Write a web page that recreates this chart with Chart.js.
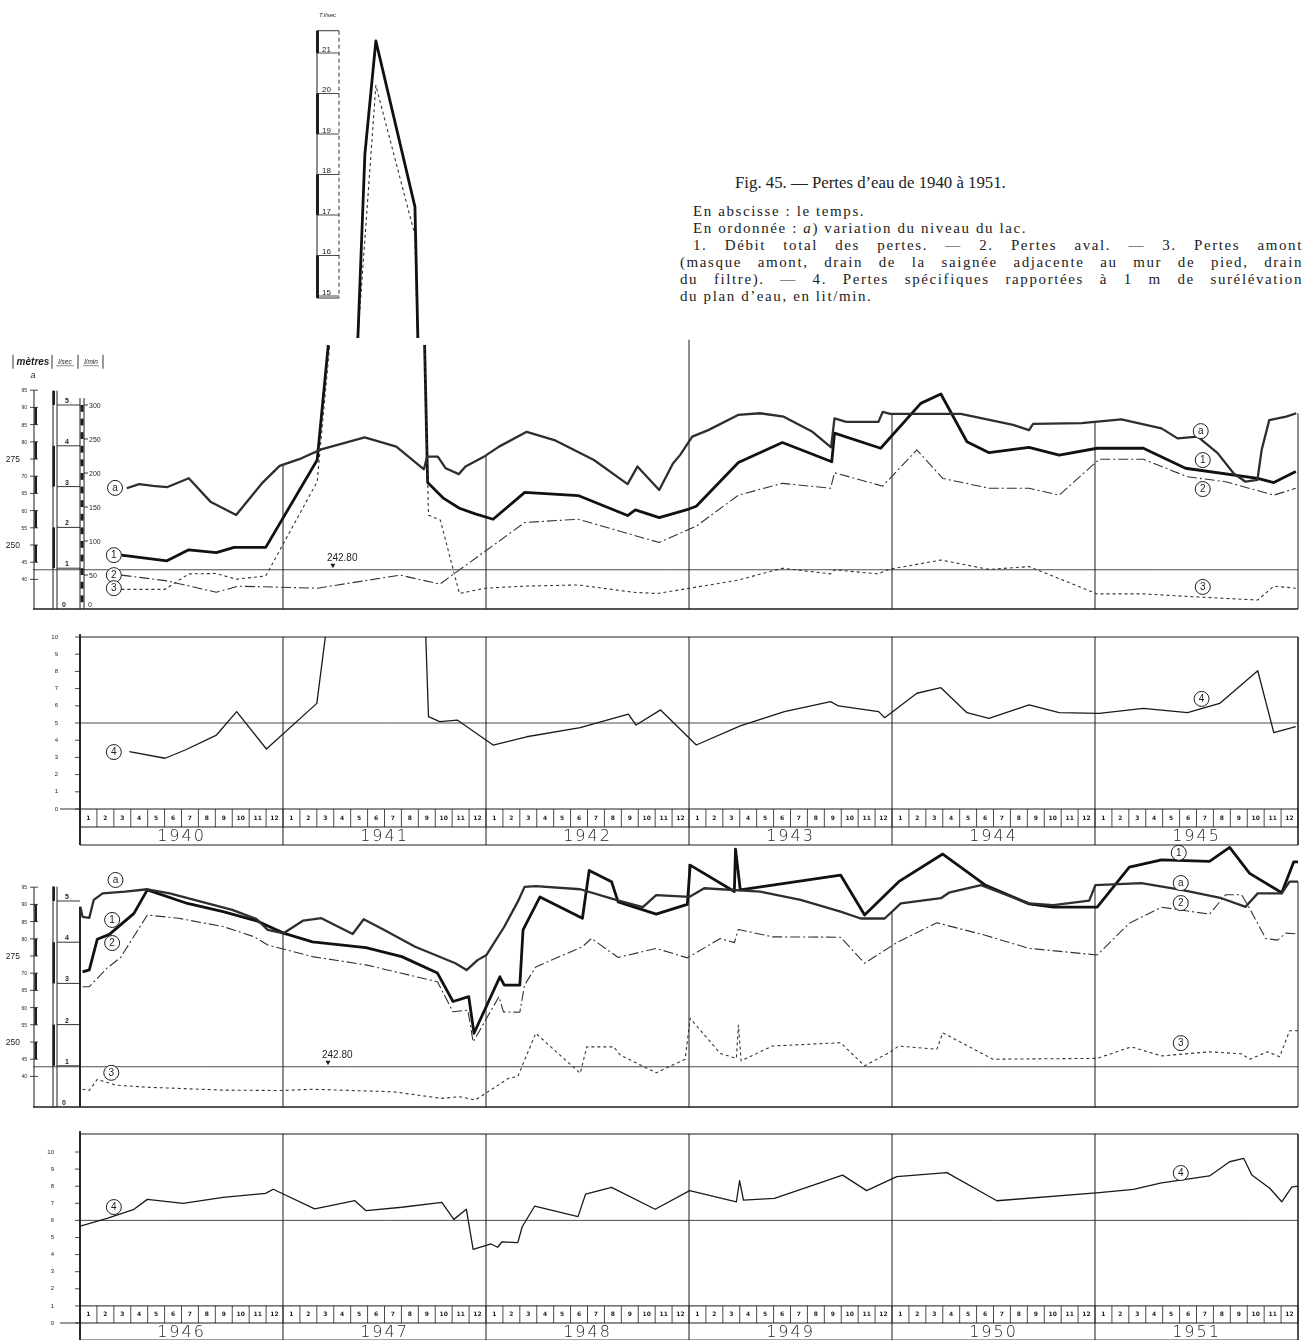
<!DOCTYPE html>
<html lang="fr">
<head>
<meta charset="utf-8">
<title>Pertes d'eau de 1940 à 1951</title>
<script src="https://cdn.jsdelivr.net/npm/chart.js@4.4.1/dist/chart.umd.min.js"></script>
<style>
  html, body { margin: 0; padding: 0; background: #fff; }
  body { position: relative; width: 1309px; height: 1340px; overflow: hidden; }
  canvas { position: absolute; left: 0; }
  .cap { position: absolute; font-family: "Liberation Serif", "DejaVu Serif", serif; color: #222; white-space: nowrap; box-sizing: border-box; }
  .title { left: 735px; top: 173px; font-size: 16.8px; }
  .txt { left: 680px; width: 623px; font-size: 15px; line-height: 17px; letter-spacing: 1.6px; }
  .ind { padding-left: 13px; }
  .just { text-align: justify; text-align-last: justify; }
</style>
</head>
<body>
<div class="cap title">Fig. 45. — Pertes d’eau de 1940 à 1951.</div>
<div class="cap txt ind" style="top:203px">En abscisse : le temps.</div>
<div class="cap txt ind" style="top:220px">En ordonnée : <i>a</i>) variation du niveau du lac.</div>
<div class="cap txt ind just" style="top:237px">1. Débit total des pertes. — 2. Pertes aval. — 3. Pertes amont</div>
<div class="cap txt just" style="top:254px">(masque amont, drain de la saignée adjacente au mur de pied, drain</div>
<div class="cap txt just" style="top:271px">du filtre). — 4. Pertes spécifiques rapportées à 1 m de surélévation</div>
<div class="cap txt" style="top:288px">du plan d’eau, en lit/min.</div>

<canvas id="inset"></canvas>
<canvas id="flow40"></canvas>
<canvas id="spec40"></canvas>
<canvas id="flow46"></canvas>
<canvas id="spec46"></canvas>

<script>
// time axis: months counted from 1 January of the first year of each half
const years40 = ['1940', '1941', '1942', '1943', '1944', '1945'];
const years46 = ['1946', '1947', '1948', '1949', '1950', '1951'];
const monthNums = ['1', '2', '3', '4', '5', '6', '7', '8', '9', '10', '11', '12'];

// ---- 1940-1945 ----
// a) lake level, metres
const lake40_t = [2.76, 3.5, 4.32, 5.14, 6.43, 7.71, 9.23, 10.75, 11.8, 13.09, 14.26, 16.83, 18.7, 20.33, 20.52, 21.15, 21.62, 22.39, 22.79, 23.95, 24.77, 26.41, 28.04, 30.38, 32.37, 32.95, 34.24, 35.05, 35.48, 36.19, 37.14, 38.9, 40.2, 41.6, 43.3, 44.4, 44.6, 45.3, 47.2, 47.45, 47.9, 52.07, 55.16, 56.1, 56.34, 59.2, 61.56, 63.93, 64.88, 66.07, 67.25, 68.2, 68.9, 69.6, 69.85, 70.3, 71.3, 71.9];
const lake40_m = [266.5, 267.7, 267.2, 266.8, 269.4, 262.6, 258.7, 267.9, 273.0, 275.2, 277.8, 281.3, 278.6, 272.0, 275.7, 275.7, 272.3, 270.6, 272.8, 275.9, 278.6, 282.9, 280.5, 274.7, 267.7, 272.8, 266.0, 273.7, 276.2, 281.5, 283.4, 287.8, 288.3, 287.3, 282.9, 278.4, 286.8, 285.8, 285.8, 288.7, 288.1, 288.1, 284.9, 283.4, 285.2, 285.4, 286.5, 283.9, 281.0, 281.5, 276.7, 270.8, 268.4, 268.9, 277.6, 286.3, 287.3, 288.3];
// 1. total losses, l/sec
const total40_t = [2.45, 5.14, 6.43, 8.06, 9.11, 10.98, 14.02, 16.43, 16.84, 17.49, 19.8, 20.55, 21.5, 22.43, 23.37, 24.42, 26.29, 29.45, 32.37, 32.83, 34.24, 35.99, 36.43, 38.92, 41.52, 44.44, 44.6, 47.33, 49.7, 50.89, 52.43, 53.74, 56.1, 57.88, 60.13, 62.86, 65.35, 69.62, 70.57, 71.87];
const total40_ls = [1.32, 1.18, 1.45, 1.38, 1.51, 1.51, 3.65, 14.0, 18.5, 21.3, 17.2, 3.1, 2.71, 2.47, 2.33, 2.2, 2.86, 2.78, 2.29, 2.43, 2.24, 2.45, 2.52, 3.59, 4.08, 3.61, 4.31, 3.94, 5.04, 5.27, 4.1, 3.83, 3.96, 3.77, 3.94, 3.94, 3.45, 3.2, 3.1, 3.37];
// 2. downstream losses, l/sec
const aval40_t = [2.45, 5.14, 8.06, 9.35, 14.02, 18.93, 21.27, 26.29, 29.45, 34.24, 35.48, 36.43, 38.92, 41.52, 44.37, 44.6, 47.45, 49.47, 51.0, 53.74, 56.1, 57.88, 60.25, 62.86, 65.47, 67.72, 70.57, 71.87];
const aval40_ls = [0.83, 0.69, 0.41, 0.56, 0.51, 0.83, 0.61, 2.12, 2.2, 1.63, 1.86, 2.03, 2.79, 3.08, 2.96, 3.34, 3.01, 3.9, 3.2, 2.96, 2.96, 2.79, 3.67, 3.67, 3.24, 3.12, 2.79, 2.96];
// 3. upstream losses, l/sec
const amont40_t = [2.45, 5.02, 6.43, 8.06, 9.23, 10.98, 14.02, 16.43, 17.49, 19.8, 20.6, 21.3, 22.43, 23.95, 26.29, 29.45, 32.72, 34.12, 35.48, 38.92, 41.52, 44.37, 44.6, 47.2, 47.8, 50.89, 53.74, 56.1, 60.13, 62.86, 65.82, 69.62, 70.57, 71.87];
const amont40_ls = [0.48, 0.48, 0.86, 0.87, 0.73, 0.81, 3.12, 14.0, 20.2, 16.5, 2.3, 2.18, 0.38, 0.51, 0.56, 0.59, 0.41, 0.38, 0.47, 0.71, 1.0, 0.86, 0.96, 0.86, 0.97, 1.2, 0.97, 1.04, 0.37, 0.37, 0.3, 0.22, 0.56, 0.51];
// 4. specific losses, l/min per metre (1941 peak runs off the scale)
const spec40_t = [2.92, 5.03, 6.22, 8.07, 9.26, 11.02, 14.0, 17.49, 19.8, 20.6, 21.26, 22.3, 24.42, 26.4, 29.57, 32.42, 32.87, 34.32, 36.43, 39.03, 41.64, 44.37, 44.84, 47.21, 47.57, 49.47, 50.89, 52.43, 53.73, 56.1, 57.88, 60.25, 62.86, 65.47, 67.37, 69.62, 70.57, 71.87];
const spec40_v = [3.33, 2.95, 3.43, 4.3, 5.66, 3.49, 6.14, 33.0, 28.7, 5.37, 5.08, 5.17, 3.72, 4.2, 4.73, 5.52, 4.88, 5.76, 3.72, 4.83, 5.66, 6.24, 5.99, 5.66, 5.31, 6.73, 7.05, 5.6, 5.27, 6.05, 5.6, 5.56, 5.85, 5.6, 6.14, 8.04, 4.44, 4.79];

// ---- 1946-1951 ----
const lake46_t = [0.02, 0.15, 0.55, 0.81, 1.34, 2.66, 3.98, 5.3, 7.15, 9.0, 10.44, 11.1, 12.03, 13.2, 14.27, 16.12, 16.77, 17.96, 19.81, 21.0, 22.19, 22.85, 23.5, 24.03, 25.08, 25.88, 26.28, 26.94, 29.57, 31.68, 33.27, 34.06, 36.04, 36.9, 40.2, 42.6, 44.96, 46.15, 47.57, 48.52, 50.89, 51.36, 53.26, 56.1, 57.53, 59.66, 60.02, 62.74, 65.11, 67.48, 68.9, 69.62, 71.04, 71.5, 72.0];
const lake46_m = [289.3, 286.4, 286.1, 291.3, 293.2, 293.7, 294.4, 293.2, 290.8, 288.4, 285.7, 282.6, 281.6, 285.3, 286.0, 281.4, 285.7, 282.6, 277.7, 275.3, 272.9, 270.9, 273.8, 275.3, 283.5, 290.8, 295.1, 295.3, 294.4, 291.3, 289.2, 292.7, 292.2, 294.7, 293.7, 291.3, 287.9, 285.9, 285.9, 290.3, 291.8, 293.4, 295.6, 290.3, 289.8, 291.1, 295.6, 296.2, 294.2, 291.8, 289.3, 293.2, 293.2, 296.6, 296.6];
const total46_t = [0.15, 0.55, 1.02, 1.74, 3.19, 3.98, 6.35, 8.46, 10.44, 12.03, 13.74, 16.9, 19.02, 21.13, 22.05, 22.98, 23.29, 24.82, 25.08, 26.0, 26.19, 27.19, 29.7, 30.1, 31.42, 31.81, 34.06, 35.9, 36.07, 38.68, 38.75, 39.03, 44.96, 46.38, 48.4, 51.0, 53.5, 56.1, 57.53, 60.13, 62.03, 63.93, 66.77, 67.96, 69.14, 71.04, 71.75, 72.0];
const total46_ls = [3.28, 3.33, 4.07, 4.19, 4.7, 5.27, 4.94, 4.74, 4.52, 4.22, 4.01, 3.87, 3.65, 3.25, 2.56, 2.68, 1.79, 3.16, 2.96, 2.96, 4.3, 5.1, 4.58, 5.74, 5.47, 4.98, 4.68, 4.92, 5.87, 5.23, 6.26, 5.27, 5.63, 4.66, 5.47, 6.14, 5.39, 4.93, 4.85, 4.85, 5.82, 6.0, 5.96, 6.3, 5.67, 5.2, 5.95, 5.95];
const aval46_t = [0.15, 0.55, 1.6, 2.4, 3.98, 5.83, 8.46, 10.31, 11.1, 13.74, 16.9, 21.13, 22.05, 22.93, 23.24, 24.77, 25.03, 26.0, 26.28, 26.94, 29.7, 30.23, 31.81, 34.06, 35.9, 37.85, 38.68, 38.92, 40.93, 44.96, 46.38, 48.28, 50.65, 53.5, 56.1, 60.13, 62.03, 63.93, 66.77, 67.72, 68.67, 69.14, 70.09, 70.8, 71.28, 72.0];
const aval46_ls = [2.92, 2.92, 3.37, 3.63, 4.66, 4.58, 4.38, 4.13, 3.93, 3.65, 3.45, 3.04, 2.31, 2.35, 1.58, 2.68, 2.31, 2.3, 2.96, 3.4, 3.89, 4.09, 3.63, 3.85, 3.62, 4.09, 3.99, 4.31, 4.13, 4.12, 3.49, 3.99, 4.47, 4.17, 3.85, 3.69, 4.46, 4.85, 4.68, 5.15, 5.15, 4.82, 4.09, 4.05, 4.22, 4.2];
const amont46_t = [0.15, 0.55, 1.02, 2.13, 3.98, 8.46, 11.9, 13.74, 18.49, 21.4, 22.45, 23.37, 25.35, 25.88, 26.94, 29.57, 29.96, 31.55, 31.94, 34.06, 35.77, 36.07, 37.85, 38.8, 38.92, 39.08, 40.93, 44.96, 46.38, 47.92, 48.4, 50.65, 51.0, 53.97, 60.13, 62.15, 63.93, 66.77, 68.67, 69.14, 70.21, 70.92, 71.5, 72.0];
const amont46_ls = [0.43, 0.4, 0.67, 0.53, 0.48, 0.41, 0.4, 0.43, 0.37, 0.21, 0.25, 0.17, 0.7, 0.74, 1.79, 0.82, 1.46, 1.46, 1.26, 0.83, 1.16, 2.15, 1.3, 1.18, 1.99, 1.12, 1.48, 1.56, 1.0, 1.34, 1.48, 1.4, 1.8, 1.16, 1.18, 1.46, 1.24, 1.34, 1.29, 1.16, 1.34, 1.22, 1.85, 1.85];
const spec46_t = [0.02, 1.6, 3.19, 3.98, 6.09, 8.46, 10.97, 11.42, 13.87, 16.25, 16.91, 19.02, 21.39, 22.1, 22.84, 23.24, 24.3, 24.69, 24.95, 25.88, 26.14, 26.88, 29.44, 29.89, 31.42, 34.0, 36.04, 38.8, 38.99, 39.22, 41.05, 45.08, 46.5, 48.28, 51.24, 54.2, 60.25, 62.27, 63.93, 66.77, 67.96, 68.79, 69.27, 70.33, 71.04, 71.63, 72.0];
const spec46_v = [5.67, 6.12, 6.65, 7.23, 7.0, 7.35, 7.58, 7.82, 6.67, 7.15, 6.57, 6.77, 7.06, 6.06, 6.65, 4.31, 4.62, 4.43, 4.75, 4.7, 5.63, 6.84, 6.22, 7.54, 7.93, 6.65, 7.74, 7.09, 8.32, 7.19, 7.29, 8.65, 7.74, 8.56, 8.79, 7.15, 7.62, 7.82, 8.2, 8.6, 9.43, 9.63, 8.65, 7.88, 7.09, 7.94, 8.0];

const REF_LEVEL = 242.80;

// ---------- helpers ----------
const INK = '#1d1d1d';

function pts(ts, vs) { return ts.map((t, i) => ({ x: t, y: vs[i] })); }

function interp(ts, vs, t) {
  if (t <= ts[0]) return vs[0];
  for (let i = 1; i < ts.length; i++) {
    if (t <= ts[i]) { const f = (t - ts[i - 1]) / (ts[i] - ts[i - 1]); return vs[i - 1] + f * (vs[i] - vs[i - 1]); }
  }
  return vs[vs.length - 1];
}

function seg(ctx, x1, y1, x2, y2, w) {
  ctx.lineWidth = w || 1;
  ctx.beginPath(); ctx.moveTo(x1, y1); ctx.lineTo(x2, y2); ctx.stroke();
}

function circled(ctx, px, py, s) {
  ctx.beginPath(); ctx.arc(px, py, 7.5, 0, 2 * Math.PI);
  ctx.fillStyle = '#fff'; ctx.fill();
  ctx.lineWidth = 1; ctx.strokeStyle = INK; ctx.stroke();
  ctx.fillStyle = INK; ctx.font = '10px "Liberation Sans"';
  ctx.textAlign = 'center'; ctx.textBaseline = 'middle';
  ctx.fillText(s, px, py + 0.5);
}

const STYLE = {
  lake: { borderColor: '#2e2e2e', borderWidth: 2.3 },
  total: { borderColor: '#111', borderWidth: 2.8 },
  aval: { borderColor: '#333', borderWidth: 1.1, borderDash: [10, 3, 2, 3] },
  amont: { borderColor: '#333', borderWidth: 1.1, borderDash: [3, 3] },
  spec: { borderColor: '#1a1a1a', borderWidth: 1.3 }
};

function lineSet(ts, vs, axis, style) {
  return Object.assign({ data: pts(ts, vs), yAxisID: axis, pointRadius: 0, tension: 0, fill: false, borderJoinStyle: 'round' }, style);
}

function build(id, g, scales, datasets, before, after) {
  const cv = document.getElementById(id);
  cv.width = 1309; cv.height = g.h; cv.style.top = g.top + 'px';
  return new Chart(cv, {
    type: 'line',
    data: { datasets },
    options: {
      responsive: false, animation: false, events: [],
      layout: { padding: { left: 80, right: 11, top: g.aTop - g.top, bottom: g.top + g.h - g.aBot } },
      plugins: { legend: { display: false }, tooltip: { enabled: false } },
      scales
    },
    plugins: [{ id: id + 'Deco', beforeDatasetsDraw: before, afterDatasetsDraw: after }]
  });
}

const xScale = { type: 'linear', min: 0, max: 72, display: false };

// axis range so that value v0 sits at pixel p0 with ppu pixels per unit
function range(g, v0, p0, ppu) {
  return { min: v0 - (g.aBot - p0) / ppu, max: v0 + (p0 - g.aTop) / ppu };
}

// ---------- flow panels (levels and discharge) ----------
function drawFlowFrame(ch, o) {
  const { ctx } = ch;
  const { x, ls, lake } = ch.scales;
  const xr = x.getPixelForValue(72);
  const y0 = ls.getPixelForValue(0);
  ctx.save();
  ctx.strokeStyle = INK; ctx.fillStyle = INK;

  seg(ctx, 33, y0, xr, y0, 1.3);

  for (let k = o.leftLine ? 0 : 1; k <= 6; k++) {
    const px = x.getPixelForValue(k * 12);
    const top = k === 3 ? ls.getPixelForValue(o.midTop) : lake.getPixelForValue(interp(o.lakeT, o.lakeV, k * 12));
    seg(ctx, px, top, px, y0, k === 0 ? 1.6 : 1);
  }

  // reference level line
  const yr = lake.getPixelForValue(REF_LEVEL);
  seg(ctx, 33, yr, xr, yr, 0.8);
  const xm = x.getPixelForValue(o.refAt);
  ctx.beginPath(); ctx.moveTo(xm - 2.5, yr - 6); ctx.lineTo(xm + 2.5, yr - 6); ctx.lineTo(xm, yr - 1.5); ctx.closePath(); ctx.fill();
  ctx.font = '10px "Liberation Sans"'; ctx.textAlign = 'left'; ctx.textBaseline = 'alphabetic';
  ctx.fillText(REF_LEVEL.toFixed(2), xm - 6, yr - 9);

  // metres ruler
  const mTop = lake.getPixelForValue(295);
  seg(ctx, 34, mTop, 34, y0, 1);
  for (const b of [245, 255, 265, 275, 285]) {
    const ya = lake.getPixelForValue(b), yb = lake.getPixelForValue(b + 5);
    ctx.fillRect(34.5, yb, 2.5, ya - yb);
  }
  for (let m = 240; m <= 295; m += 5) {
    const py = lake.getPixelForValue(m);
    seg(ctx, 30, py, 38, py, 0.8);
    if (m === 275 || m === 250) {
      ctx.font = '8.5px "Liberation Sans"'; ctx.textAlign = 'right';
      ctx.fillText(String(m), 20, py + 3);
    } else {
      ctx.font = '5px "Liberation Sans"'; ctx.textAlign = 'right';
      ctx.fillText(String(m % 100), 27, py + 2);
    }
  }

  // l/sec ruler
  const sTop = ls.getPixelForValue(5.35);
  seg(ctx, 53, sTop, 53, y0, 1); seg(ctx, 57, sTop, 57, y0, 1);
  for (const [a, b] of [[1, 2], [3, 4], [5, 5.35]]) {
    const ya = ls.getPixelForValue(a), yb = ls.getPixelForValue(b);
    ctx.fillRect(52.5, yb, 2.5, ya - yb);
  }
  ctx.font = 'bold 7px "Liberation Sans"'; ctx.textAlign = 'center';
  for (let k = 1; k <= 5; k++) {
    const py = ls.getPixelForValue(k);
    seg(ctx, 57, py, 80, py, 0.9);
    ctx.fillText(String(k), 67, py - 2);
  }
  ctx.fillText('0', 64, y0 - 2);

  if (o.lmin) {
    // l/min ruler
    const lTop = ls.getPixelForValue(310 / 60);
    seg(ctx, 80, lTop, 80, y0, 1); seg(ctx, 84, lTop, 84, y0, 1);
    for (let v = 10; v < 310; v += 20) {
      const ya = ls.getPixelForValue(v / 60), yb = ls.getPixelForValue((v + 10) / 60);
      ctx.fillRect(80.5, yb, 3, ya - yb);
    }
    ctx.font = '7px "Liberation Sans"'; ctx.textAlign = 'left';
    for (let v = 50; v <= 300; v += 50) {
      const py = ls.getPixelForValue(v / 60);
      seg(ctx, 84, py, 88, py, 0.9);
      ctx.fillText(String(v), 89, py + 2.5);
    }
    ctx.fillText('0', 88, y0 - 2);
    // header
    const hy = sTop - 26;
    [13, 52, 78, 103].forEach(px => seg(ctx, px, hy - 10, px, hy + 4, 0.9));
    ctx.font = 'italic bold 10px "Liberation Sans"'; ctx.textAlign = 'center';
    ctx.fillText('mètres', 33, hy);
    ctx.font = 'italic 9px "Liberation Sans"';
    ctx.fillText('a', 33, hy + 13);
    ctx.font = 'italic 6.5px "Liberation Sans"';
    ctx.fillText('l/sec', 65, hy - 1);
    ctx.fillText('l/min', 91, hy - 1);
    seg(ctx, 56, hy + 1, 74, hy + 1, 0.5); seg(ctx, 83, hy + 1, 99, hy + 1, 0.5);
  } else {
    seg(ctx, 80, lake.getPixelForValue(interp(o.lakeT, o.lakeV, 0)), 80, y0, 1.6);
  }
  ctx.restore();
}

function drawTags(ch, tags) {
  const { ctx } = ch;
  ctx.save();
  tags.forEach(tg => {
    const sc = ch.scales[tg.ax];
    circled(ctx, ch.scales.x.getPixelForValue(tg.t), sc.getPixelForValue(tg.v), tg.s);
  });
  ctx.restore();
}

// ---------- specific-loss panels ----------
function drawSpecFrame(ch, o) {
  const { ctx, chartArea: ca } = ch;
  const { x, y } = ch.scales;
  const xl = x.getPixelForValue(0), xr = x.getPixelForValue(72);
  const yt = ca.top;
  const r0 = y.getPixelForValue(o.rowAt);
  const r1 = r0 + o.rowH, r2 = r1 + o.rowH;
  ctx.save();
  ctx.strokeStyle = INK; ctx.fillStyle = INK;

  seg(ctx, xl, yt, xr, yt, 1.1);
  seg(ctx, xr, yt, xr, r2, 1.1);
  seg(ctx, xl, yt - 3, xl, r2, 1.8);
  seg(ctx, 60, y.getPixelForValue(0), xl, y.getPixelForValue(0), 0.9);

  const yrf = y.getPixelForValue(o.refLine);
  seg(ctx, xl, yrf, xr, yrf, 0.8);

  ctx.font = '6px "Liberation Sans"'; ctx.textAlign = 'right'; ctx.textBaseline = 'middle';
  for (let k = 0; k <= 10; k++) {
    const py = y.getPixelForValue(k);
    seg(ctx, 75, py, xl, py, 0.8);
    ctx.fillText(String(k), o.labX, py);
  }

  seg(ctx, xl, r0, xr, r0, 1); seg(ctx, xl, r1, xr, r1, 1); seg(ctx, xl, r2, xr, r2, 1);
  for (let m = 0; m <= 72; m++) {
    const px = x.getPixelForValue(m);
    seg(ctx, px, r0, px, r1, 0.8);
  }
  for (let k = 0; k <= 6; k++) {
    const px = x.getPixelForValue(k * 12);
    seg(ctx, px, yt, px, r2, 1);
  }
  ctx.font = 'bold 6px "DejaVu Sans"'; ctx.textAlign = 'center';
  for (let m = 0; m < 72; m++) {
    ctx.fillText(monthNums[m % 12], x.getPixelForValue(m + 0.5), (r0 + r1) / 2);
  }
  ctx.font = '200 16px "DejaVu Sans"';
  ctx.letterSpacing = '2px';
  o.years.forEach((yr, k) => ctx.fillText(yr, x.getPixelForValue(k * 12 + 6), (r1 + r2) / 2 + 1));
  ctx.letterSpacing = o.titleSpacing;

  ctx.translate(37, o.titleY); ctx.rotate(-Math.PI / 2);
  ctx.font = 'italic 17px "Liberation Sans"';
  ctx.fillText(o.title, 0, 0);
  ctx.letterSpacing = '0px';
  ctx.restore();
}

// ---------- inset (top of the 1941 peak) ----------
function drawInsetFrame(ch) {
  const { ctx } = ch;
  const ls = ch.scales.ls;
  const bx0 = 317, bx1 = 339;
  const top = ls.getPixelForValue(21.55), bot = ls.getPixelForValue(14.95);
  ctx.save();
  ctx.strokeStyle = INK; ctx.fillStyle = INK;
  seg(ctx, bx0, top, bx1, top, 0.9);
  seg(ctx, bx0, top, bx0, bot, 1);
  ctx.setLineDash([4, 3]); seg(ctx, bx1, top, bx1, bot, 0.9); ctx.setLineDash([]);
  for (const [a, b] of [[21, 21.55], [19, 20], [17, 18], [14.95, 16]]) {
    const ya = ls.getPixelForValue(a), yb = ls.getPixelForValue(b);
    ctx.fillRect(bx0 - 1, yb, 3, ya - yb);
  }
  ctx.font = '8px "Liberation Sans"'; ctx.textAlign = 'left'; ctx.textBaseline = 'alphabetic';
  for (let k = 15; k <= 21; k++) {
    const py = ls.getPixelForValue(k);
    seg(ctx, bx0, py, bx1, py, 0.8);
    ctx.fillText(String(k), bx0 + 5, py - 1.5);
  }
  seg(ctx, bx0, bot, bx1, bot, 0.9);
  ctx.font = 'italic 6px "Liberation Sans"';
  ctx.fillText('T.l/sec', bx0 + 2, top - 14);
  ctx.restore();
}

// ---------- build ----------
const gInset = { top: 0, h: 345, aTop: 28, aBot: 338 };
build('inset', gInset,
  { x: xScale, ls: Object.assign({ type: 'linear', display: false }, range(gInset, 15, 296, 40.5)) },
  [lineSet(total40_t, total40_ls, 'ls', STYLE.total), lineSet(amont40_t, amont40_ls, 'ls', STYLE.amont)],
  ch => drawInsetFrame(ch), () => {});

const gA = { top: 325, h: 295, aTop: 345, aBot: 609 };
const flowA = { leftLine: false, lmin: true, midTop: 6.6, refAt: 14.95, lakeT: lake40_t, lakeV: lake40_m };
build('flow40', gA,
  { x: xScale,
    ls: Object.assign({ type: 'linear', display: false }, range(gA, 0, 609, 40.8)),
    lake: Object.assign({ type: 'linear', display: false }, range(gA, 250, 545, 3.44)) },
  [lineSet(lake40_t, lake40_m, 'lake', STYLE.lake),
   lineSet(aval40_t, aval40_ls, 'ls', STYLE.aval),
   lineSet(amont40_t, amont40_ls, 'ls', STYLE.amont),
   lineSet(total40_t, total40_ls, 'ls', STYLE.total)],
  ch => drawFlowFrame(ch, flowA),
  ch => drawTags(ch, [
    { s: 'a', t: 2.07, v: 266.6, ax: 'lake' }, { s: '1', t: 2.0, v: 1.32, ax: 'ls' },
    { s: '2', t: 2.0, v: 0.83, ax: 'ls' }, { s: '3', t: 2.0, v: 0.51, ax: 'ls' },
    { s: 'a', t: 66.25, v: 283.1, ax: 'lake' }, { s: '1', t: 66.37, v: 3.65, ax: 'ls' },
    { s: '2', t: 66.37, v: 2.94, ax: 'ls' }, { s: '3', t: 66.37, v: 0.54, ax: 'ls' }]));

const gB = { top: 620, h: 232, aTop: 637, aBot: 809 };
build('spec40', gB,
  { x: xScale, y: Object.assign({ type: 'linear', display: false }, range(gB, 0, 809, 17.2)) },
  [lineSet(spec40_t, spec40_v, 'y', STYLE.spec)],
  ch => drawSpecFrame(ch, { rowAt: 0, rowH: 18, refLine: 5, years: years40, labX: 58, title: 'l/min par mètre', titleY: 718, titleSpacing: '0px' }),
  ch => drawTags(ch, [{ s: '4', t: 2.0, v: 3.31, ax: 'y' }, { s: '4', t: 66.3, v: 6.4, ax: 'y' }]));

const gC = { top: 835, h: 280, aTop: 840, aBot: 1107 };
const flowC = { leftLine: true, lmin: false, midTop: 5.9, refAt: 14.66, lakeT: lake46_t, lakeV: lake46_m };
build('flow46', gC,
  { x: xScale,
    ls: Object.assign({ type: 'linear', display: false }, range(gC, 0, 1107, 41.2)),
    lake: Object.assign({ type: 'linear', display: false }, range(gC, 250, 1042, 3.44)) },
  [lineSet(lake46_t, lake46_m, 'lake', STYLE.lake),
   lineSet(aval46_t, aval46_ls, 'ls', STYLE.aval),
   lineSet(amont46_t, amont46_ls, 'ls', STYLE.amont),
   lineSet(total46_t, total46_ls, 'ls', STYLE.total)],
  ch => drawFlowFrame(ch, flowC),
  ch => drawTags(ch, [
    { s: 'a', t: 2.1, v: 297.1, ax: 'lake' }, { s: '1', t: 1.9, v: 4.54, ax: 'ls' },
    { s: '2', t: 1.9, v: 3.98, ax: 'ls' }, { s: '3', t: 1.85, v: 0.83, ax: 'ls' },
    { s: '1', t: 64.95, v: 6.17, ax: 'ls' }, { s: 'a', t: 65.07, v: 296.2, ax: 'lake' },
    { s: '2', t: 65.07, v: 4.95, ax: 'ls' }, { s: '3', t: 65.07, v: 1.55, ax: 'ls' }]));

const gD = { top: 1112, h: 228, aTop: 1134, aBot: 1323 };
build('spec46', gD,
  { x: xScale, y: Object.assign({ type: 'linear', display: false }, range(gD, 0, 1323, 17.1)) },
  [lineSet(spec46_t, spec46_v, 'y', STYLE.spec)],
  ch => drawSpecFrame(ch, { rowAt: 1, rowH: 17.1, refLine: 6, years: years46, labX: 54, title: 'l/min  par  mètre', titleY: 1238, titleSpacing: '1.2px' }),
  ch => drawTags(ch, [{ s: '4', t: 2.0, v: 6.78, ax: 'y' }, { s: '4', t: 65.07, v: 8.77, ax: 'y' }]));
</script>
</body>
</html>
